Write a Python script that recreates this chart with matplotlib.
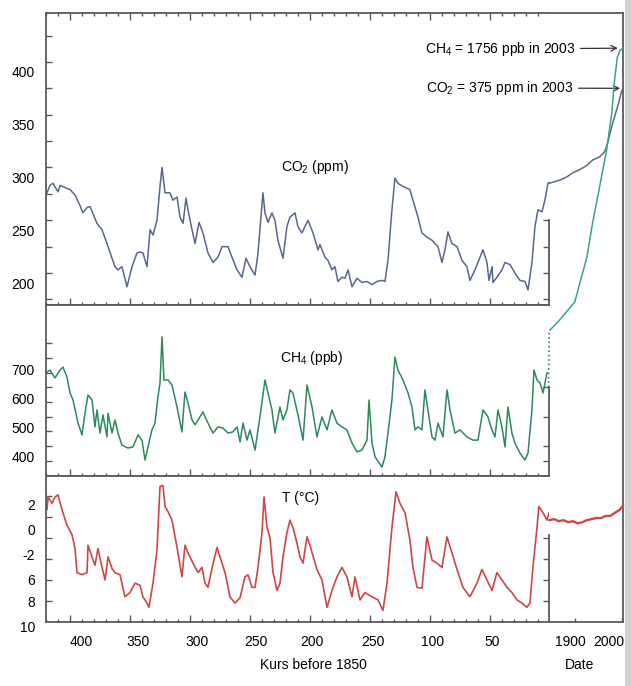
import matplotlib
matplotlib.use('Agg')
import matplotlib.pyplot as plt
from matplotlib.ticker import FixedLocator, MultipleLocator
from matplotlib.transforms import ScaledTranslation
from matplotlib.patches import Rectangle

plt.rcParams['font.family'] = ['Liberation Sans', 'DejaVu Sans']
plt.rcParams['mathtext.fontset'] = 'custom'
plt.rcParams['mathtext.rm'] = 'Liberation Sans'
plt.rcParams['mathtext.it'] = 'Liberation Sans:italic'
plt.rcParams['mathtext.bf'] = 'Liberation Sans:bold'

# ice core records (thousand years before 1850)
co2_age = [419.2, 416.7, 414.2, 410.0, 408.3, 404.2, 400.0, 395.8, 391.7, 389.2,
           385.8, 383.3, 377.5, 373.3, 369.2, 365.0, 362.5, 360.0, 356.7, 352.5,
           348.3, 344.2, 341.7, 339.2, 335.8, 333.3, 330.8, 327.5, 325.0, 323.3,
           320.8, 316.7, 314.2, 310.8, 308.3, 305.8, 303.3, 301.7, 298.3, 295.8,
           292.5, 289.2, 285.0, 280.8, 276.7, 273.3, 268.3, 265.0, 260.8, 256.7,
           253.3, 250.0, 245.8, 243.3, 239.2, 237.5, 235.0, 231.7, 229.2, 226.7,
           222.5, 219.2, 216.7, 212.5, 210.0, 206.7, 204.2, 201.7, 197.5, 193.3,
           191.7, 187.5, 185.0, 181.7, 179.2, 176.7, 173.3, 170.8, 168.3, 165.0,
           160.8, 156.7, 152.5, 148.3, 144.2, 140.0, 137.5, 135.0, 131.7, 129.2,
           126.7, 122.5, 116.7, 114.2, 110.0, 106.7, 102.5, 98.3, 93.3, 90.0,
           87.5, 85.0, 81.7, 77.5, 73.3, 69.2, 66.7, 62.5, 58.3, 55.8,
           52.5, 50.8, 48.3, 47.5, 44.2, 40.0, 37.5, 33.3, 29.2, 25.0,
           20.8, 18.3, 15.0, 12.5, 10.0, 6.7, 4.2, 1.7, 0.8]
co2_ppm = [276, 283, 285, 277, 283, 281, 279, 274, 264, 257,
           262, 263, 247, 241, 228, 214, 206, 203, 206, 187,
           206, 219, 220, 219, 206, 241, 236, 250, 282, 300,
           276, 276, 269, 272, 253, 247, 271, 260, 241, 228,
           248, 238, 219, 210, 215, 225, 225, 215, 203, 196,
           214, 206, 198, 219, 276, 257, 248, 257, 250, 231,
           214, 244, 253, 257, 244, 238, 244, 250, 238, 222,
           227, 215, 212, 203, 206, 192, 196, 195, 203, 187,
           195, 191, 192, 189, 192, 193, 192, 212, 260, 290,
           285, 282, 279, 269, 253, 238, 234, 231, 225, 210,
           222, 239, 228, 225, 212, 206, 193, 203, 215, 222,
           210, 193, 206, 191, 196, 203, 210, 208, 200, 193,
           192, 184, 210, 244, 260, 258, 269, 285, 286]

ch4_age = [419.2, 416.7, 412.5, 408.3, 405.8, 402.5, 400.0, 397.5, 393.3, 390.0,
           387.5, 385.0, 381.7, 379.2, 377.5, 375.0, 372.5, 369.2, 368.3, 365.0,
           362.5, 360.0, 356.7, 351.7, 347.5, 343.3, 340.0, 337.5, 335.0, 331.7,
           329.2, 326.7, 325.0, 323.3, 321.7, 318.3, 315.0, 310.8, 306.7, 304.2,
           301.7, 298.3, 295.8, 291.7, 289.2, 285.0, 280.8, 276.7, 272.5, 268.3,
           264.2, 260.8, 258.3, 255.8, 252.5, 250.0, 245.8, 241.7, 237.5, 235.0,
           231.7, 229.2, 225.0, 222.5, 219.2, 216.7, 214.2, 210.0, 205.8, 202.5,
           198.3, 194.2, 190.0, 185.8, 181.7, 177.5, 173.3, 169.2, 165.0, 160.8,
           156.7, 152.5, 150.8, 148.3, 145.8, 140.0, 137.5, 135.0, 131.7, 129.2,
           126.7, 122.5, 118.3, 115.0, 112.5, 110.0, 106.7, 104.2, 101.7, 98.3,
           95.8, 93.3, 89.2, 85.8, 83.3, 79.2, 75.0, 69.2, 64.2, 60.0,
           55.8, 51.7, 48.3, 45.8, 43.3, 40.0, 37.5, 35.0, 31.7, 29.2,
           25.0, 20.8, 18.3, 15.0, 13.3, 10.8, 8.3, 5.8, 2.5]
ch4_ppb = [652, 659, 632, 659, 669, 635, 581, 557, 478, 438,
           512, 574, 557, 465, 523, 444, 506, 431, 512, 444,
           489, 444, 403, 393, 397, 438, 420, 352, 397, 455,
           478, 567, 615, 772, 625, 625, 608, 533, 448, 584,
           547, 489, 472, 499, 516, 478, 444, 465, 461, 444,
           448, 465, 414, 478, 420, 455, 386, 499, 625, 581,
           523, 444, 533, 489, 523, 591, 581, 506, 420, 608,
           533, 431, 499, 455, 523, 478, 465, 455, 410, 380,
           386, 420, 557, 410, 363, 328, 363, 444, 557, 703,
           659, 625, 581, 533, 455, 465, 455, 591, 523, 431,
           420, 478, 431, 591, 523, 444, 455, 431, 420, 420,
           523, 499, 455, 431, 523, 465, 397, 533, 444, 410,
           376, 352, 376, 523, 659, 625, 615, 581, 649]
ch4_link_age = [1.2, 0.6]
ch4_link_ppb = [600, 790]

temp_age = [419.2, 418.3, 415.0, 412.5, 410.0, 406.7, 402.5, 398.3, 395.8, 394.2,
            390.0, 385.8, 385.0, 381.7, 379.2, 376.7, 373.3, 370.8, 368.3, 365.0,
            362.5, 358.3, 354.2, 350.0, 345.8, 341.7, 339.2, 335.8, 334.2, 330.8,
            327.5, 325.0, 322.5, 320.8, 318.3, 315.0, 310.8, 306.7, 304.2, 301.7,
            297.5, 293.3, 290.0, 287.5, 285.0, 281.7, 277.5, 275.0, 270.8, 266.7,
            262.5, 258.3, 254.2, 251.7, 248.3, 245.8, 243.3, 240.0, 238.3, 235.8,
            233.3, 230.8, 227.5, 225.0, 222.5, 219.2, 216.7, 214.2, 210.8, 208.3,
            205.8, 202.5, 200.0, 194.2, 190.0, 185.8, 181.7, 177.5, 173.3, 169.2,
            165.0, 162.5, 158.3, 154.2, 148.3, 143.3, 139.2, 135.8, 131.7, 128.3,
            125.0, 120.8, 116.7, 114.2, 110.8, 106.7, 102.5, 98.3, 94.2, 90.0,
            85.8, 81.7, 77.5, 72.5, 66.7, 60.8, 56.7, 52.5, 48.3, 44.2,
            40.0, 35.8, 31.7, 27.5, 23.3, 19.2, 16.7, 14.2, 10.8, 9.2,
            5.8, 2.5, 0.8]
temp_c = [0.7, 1.9, 1.3, 1.9, 2.1, 0.7, -0.8, -1.7, -3.0, -5.3,
          -5.5, -5.3, -2.7, -3.8, -4.6, -3.0, -4.8, -6.0, -3.8, -4.9,
          -5.3, -5.5, -7.6, -7.2, -6.3, -6.5, -7.6, -8.2, -8.6, -6.3,
          -3.1, 2.9, 3.0, 1.0, 0.5, -0.3, -2.9, -5.7, -2.7, -3.4,
          -4.4, -5.3, -4.8, -6.3, -6.7, -4.9, -2.9, -3.8, -5.3, -7.6,
          -8.2, -7.7, -5.7, -5.5, -6.7, -6.7, -4.8, -1.5, 1.9, -1.0,
          -2.0, -5.3, -7.0, -6.3, -3.8, -1.5, -0.3, -1.0, -2.5, -3.8,
          -4.4, -1.9, -2.7, -5.0, -6.0, -8.6, -7.0, -5.7, -4.8, -5.7,
          -7.6, -5.7, -7.9, -7.2, -7.6, -7.9, -8.9, -6.3, -1.0, 2.4,
          1.3, 0.4, -2.2, -4.8, -6.7, -6.8, -1.9, -4.1, -4.4, -4.8,
          -1.9, -3.4, -5.0, -6.7, -7.6, -6.3, -5.0, -6.0, -7.0, -5.3,
          -6.0, -6.7, -7.2, -7.9, -8.2, -8.6, -8.2, -4.8, -1.0, 1.0,
          0.4, -0.3, 0.4]

# instrumental era (calendar years)
year_co2 = [1845, 1853, 1868, 1883, 1896, 1911, 1926, 1938, 1953, 1964, 1970, 1981, 1991, 2000, 2003]
co2_recent = [285, 286, 288, 291, 295, 298, 302, 307, 310, 315, 323, 342, 357, 372, 375]
year_ch4 = [1847, 1868, 1889, 1900, 1911, 1926, 1938, 1953, 1968, 1979, 1985, 1991, 1997, 2003]
ch4_recent = [795, 830, 870, 891, 956, 1044, 1160, 1283, 1409, 1535, 1648, 1726, 1750, 1756]
year_temp = [1846, 1856, 1866, 1876, 1886, 1896, 1906, 1916, 1926, 1936, 1946, 1956, 1966, 1976, 1986, 1996, 2003]
temp_recent = [-0.3, -0.2, -0.4, -0.3, -0.5, -0.4, -0.6, -0.5, -0.3, -0.2, -0.1, -0.1, 0.1, 0.1, 0.4, 0.7, 1.1]

age_ticks = [400, 350, 300, 250, 200, 150, 100, 50, 0]
age_labels = ['400', '350', '300', '250', '200', '250', '100', '50', '0']
co2_ticks = [200, 250, 300, 350, 400]
ch4_ticks = [400, 500, 600, 700]
temp_ticks = [-8, -6, -4, -2, 0, 2]
temp_labels = ['10', '8', '6', '-2', '0', '2']
year_ticks = [1900, 2000]

CO2_COL = '#56688f'
CH4_COL = '#2c8a58'
T_COL = '#cf4646'
SPINE = '#5a5a5a'
W, H = 631, 686
fig = plt.figure(figsize=(W / 100, H / 100), dpi=100)


def fx(px):
    return px / W


def fy(px):
    return 1 - px / H


def shift(labels, offsets):
    # move tick labels by (dx, dy) pixels, dy positive = down
    for lab, (dx, dy) in zip(labels, offsets):
        lab.set_transform(lab.get_transform() + ScaledTranslation(dx / 100, -dy / 100, fig.dpi_scale_trans))


L, R, RR = 46, 549, 623
ax_co2 = fig.add_axes([fx(L), fy(305), fx(R) - fx(L), fy(13) - fy(305)])
ax_ch4 = fig.add_axes([fx(L), fy(476), fx(R) - fx(L), fy(305) - fy(476)])
ax_t = fig.add_axes([fx(L), fy(622), fx(R) - fx(L), fy(476) - fy(622)])
ax_r = fig.add_axes([fx(R), fy(622), fx(RR) - fx(R), fy(13) - fy(622)])

ax_co2.plot(co2_age, co2_ppm, color=CO2_COL, lw=1.1)
ax_ch4.plot(ch4_age, ch4_ppb, color=CH4_COL, lw=1.1)
ax_ch4.plot(ch4_link_age, ch4_link_ppb, color=CH4_COL, lw=1.2, ls=':', clip_on=False)
ax_t.plot(temp_age, temp_c, color=T_COL, lw=1.2)

ax_co2.set_ylim(169.7, 446.4)
ax_ch4.set_ylim(297.7, 880.7)
ax_t.set_ylim(-10.0, 3.9)

# partial right-hand spines with their own ticks
right_specs = [(ax_co2, 250, [175, 200, 225, 250]),
               (ax_ch4, 600, [350, 400, 500, 600]),
               (ax_t, -1.7, [-8, -6, -4, -2])]
for ax, top, rticks in right_specs:
    tw = ax.twinx()
    tw.set_ylim(ax.get_ylim())
    tw.set_yticks(rticks)
    tw.tick_params(axis='y', direction='in', length=4, width=1, color=SPINE, labelright=False)
    for s in ['top', 'bottom', 'left']:
        tw.spines[s].set_visible(False)
    tw.spines['right'].set_bounds(ax.get_ylim()[0], top)
    tw.spines['right'].set_color(SPINE)
    tw.spines['right'].set_linewidth(1.3)
    ax.spines['right'].set_visible(False)

for ax in (ax_co2, ax_ch4, ax_t):
    ax.set_xlim(420, 0.8)
    ax.xaxis.set_major_locator(FixedLocator(age_ticks))
    ax.xaxis.set_minor_locator(MultipleLocator(10))
    ax.tick_params(axis='x', which='major', direction='in', length=5, width=1, color=SPINE)
    ax.tick_params(axis='x', which='minor', direction='in', length=2.5, width=1, color=SPINE)
    ax.tick_params(axis='y', which='both', direction='in', length=4, width=1, color=SPINE,
                   labelsize=10, pad=8, right=False)
    for s in ['top', 'bottom', 'left']:
        ax.spines[s].set_color(SPINE)
        ax.spines[s].set_linewidth(1.3)

ax_co2.tick_params(axis='x', which='both', top=True, bottom=True, labelbottom=False)
ax_ch4.tick_params(axis='x', which='both', top=False, bottom=True, labelbottom=False)
ax_t.tick_params(axis='x', which='both', top=False, bottom=True, labelbottom=True, labelsize=10, pad=9)
ax_t.set_xticklabels(age_labels)

ax_co2.set_yticks(co2_ticks)
ax_co2.yaxis.set_minor_locator(MultipleLocator(25))
ax_ch4.set_yticks(ch4_ticks)
ax_ch4.yaxis.set_minor_locator(FixedLocator([350, 450, 550, 650, 750]))
ax_t.set_yticks(temp_ticks)
ax_t.set_yticklabels(temp_labels)

shift(ax_t.get_xticklabels(), [(11, 0), (8, 0), (7, 0), (6, 0), (2, 0), (3, 0), (3, 0), (2, 0), (-1, 0)])
shift(ax_co2.get_yticklabels(), [(0, 10)] * 5)
shift(ax_ch4.get_yticklabels(), [(0, 11)] * 4)
shift(ax_t.get_yticklabels(), [(0, 26), (0, 22), (0, 21), (0, 17), (0, 13), (0, 9)])

ax_co2.text(0.535, 0.473, r'CO$_2$ (ppm)', transform=ax_co2.transAxes, ha='center', va='center', fontsize=10)
ax_ch4.text(0.529, 0.69, r'CH$_4$ (ppb)', transform=ax_ch4.transAxes, ha='center', va='center', fontsize=10)
ax_t.text(0.507, 0.849, 'T (°C)', transform=ax_t.transAxes, ha='center', va='center', fontsize=10)

# right panel: 1850-2003, sharing the vertical scales of the three records
ax_r.set_xlim(1845, 2003)
ax_r.set_ylim(-130.8, 446.4)
ax_r.patch.set_visible(False)
ax_r_ch4 = ax_r.twinx()
ax_r_ch4.set_ylim(-200, 1876)
ax_r_ch4.axis('off')
ax_r_t = ax_r.twinx()
ax_r_t.set_ylim(-10.0, 48.0)
ax_r_t.axis('off')

ax_r.plot(year_co2, co2_recent, color='#5d6a86', lw=1.1, clip_on=False)
ax_r_ch4.plot(year_ch4, ch4_recent, color='#3aa57f', lw=1.1, clip_on=False)
ax_r_t.plot(year_temp, temp_recent, color=T_COL, lw=1.7, clip_on=False)

ax_r.spines['left'].set_visible(False)
for s in ['top', 'right', 'bottom']:
    ax_r.spines[s].set_color(SPINE)
    ax_r.spines[s].set_linewidth(1.3)
ax_r.set_yticks([])
ax_r.set_xticks(year_ticks)
ax_r.tick_params(axis='x', direction='in', length=3, width=1, color=SPINE, labelsize=10, pad=9)
shift(ax_r.get_xticklabels(), [(-4, 0), (-13, 0)])

ax_r_ch4.annotate(r'CH$_4$ = 1756 ppb in 2003', xy=(1992, 1756), xytext=(fx(575), fy(49)),
                  textcoords='figure fraction', ha='right', va='center', fontsize=10,
                  arrowprops=dict(arrowstyle='->', color='#333333', lw=0.9, shrinkA=2, shrinkB=0),
                  annotation_clip=False)
ax_r.annotate(r'CO$_2$ = 375 ppm in 2003', xy=(1997, 375), xytext=(fx(573), fy(88)),
              textcoords='figure fraction', ha='right', va='center', fontsize=10,
              arrowprops=dict(arrowstyle='->', color='#333333', lw=0.9, shrinkA=2, shrinkB=0),
              annotation_clip=False)

fig.text(fx(313), fy(665), 'Kurs before 1850', ha='center', va='center', fontsize=10)
fig.text(fx(580), fy(665), 'Date', ha='center', va='center', fontsize=10)

# grey page edge on the right
fig.patches.append(Rectangle((fx(625), 0), fx(6), 1, transform=fig.transFigure,
                             facecolor='#d2d2d2', edgecolor='none'))

fig.savefig('out.png', dpi=100, facecolor='white')
